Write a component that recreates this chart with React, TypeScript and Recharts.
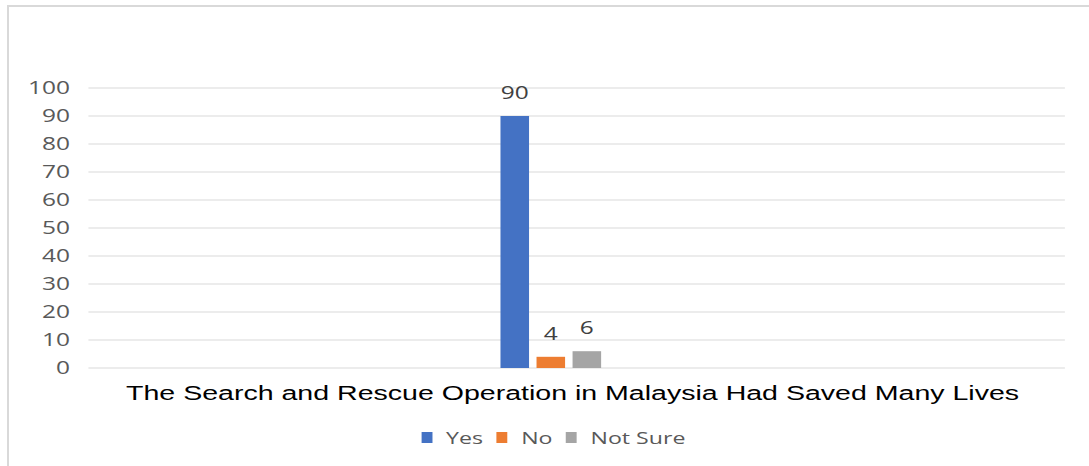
import React from "react";
import { BarChart, Bar, XAxis, YAxis, CartesianGrid, Legend, LabelList } from "recharts";

const categories = ["The Search and Rescue Operation in Malaysia Had Saved Many Lives"];
const seriesNames = ["Yes", "No", "Not Sure"];
const yesValues = [90];
const noValues = [4];
const notSureValues = [6];
const yTicks = [0, 10, 20, 30, 40, 50, 60, 70, 80, 90, 100];
const seriesColors = ["#4472C4", "#ED7D31", "#A5A5A5"];

const data = categories.map((c, i) => ({
  category: c,
  [seriesNames[0]]: yesValues[i],
  [seriesNames[1]]: noValues[i],
  [seriesNames[2]]: notSureValues[i],
}));

const SX = 1.36;
const W = 801;
const H = 466;

const LegendContent = () => (
  <div
    style={{
      display: "flex",
      justifyContent: "center",
      alignItems: "center",
      height: 39,
      paddingLeft: 13,
      paddingTop: 2,
      boxSizing: "border-box",
      fontFamily: "'Open Sans', sans-serif",
      fontSize: 17,
      color: "#595959",
    }}
  >
    {seriesNames.map((n, i) => (
      <div key={n} style={{ display: "flex", alignItems: "center", marginRight: i < seriesNames.length - 1 ? 10 : 0 }}>
        <span style={{ display: "inline-block", width: 8, height: 11, background: seriesColors[i], marginRight: 10 }} />
        <span>{n}</span>
      </div>
    ))}
  </div>
);

export default function App() {
  return (
    <div style={{ position: "absolute", left: 0, top: 0, width: 1089, height: 466, overflow: "hidden", background: "#fff" }}>
      <div
        style={{
          position: "absolute",
          left: 7,
          top: 5,
          width: 1120,
          height: 500,
          border: "2px solid #d9d9d9",
          boxSizing: "border-box",
        }}
      />
      <div style={{ position: "absolute", left: 0, top: 0, width: W, height: H, transform: `scaleX(${SX})`, transformOrigin: "0 0" }}>
        <BarChart
          width={W}
          height={H}
          data={data}
          margin={{ top: 88, right: 18, left: 0, bottom: 10 }}
          barSize={21}
          barGap={5.5}
        >
          <CartesianGrid vertical={false} stroke="#d9d9d9" strokeWidth={1} />
          <XAxis
            dataKey="category"
            tick={false}
            axisLine={false}
            tickLine={false}
            height={49}
            padding={{ left: 0, right: 38 }}
            label={{
              value: categories[0],
              position: "center",
              fill: "#000",
              fontSize: 21,
              fontFamily: "'Liberation Sans', Arial, sans-serif",
              dx: -3,
            }}
          />
          <YAxis
            domain={[0, 100]}
            ticks={yTicks}
            interval={0}
            width={65}
            axisLine={false}
            tickLine={false}
            tickSize={0}
            tickMargin={13.5}
            tick={{ fill: "#595959", fontSize: 18, fontFamily: "'Open Sans', sans-serif" }}
          />
          <Legend verticalAlign="bottom" wrapperStyle={{ left: 0, width: W }} content={LegendContent} />
          {seriesNames.map((n, i) => (
            <Bar key={n} dataKey={n} fill={seriesColors[i]} isAnimationActive={false}>
              <LabelList
                dataKey={n}
                position="top"
                offset={17}
                fill="#404040"
                fontSize={18}
                fontFamily="'Open Sans', sans-serif"
              />
            </Bar>
          ))}
        </BarChart>
      </div>
    </div>
  );
}
